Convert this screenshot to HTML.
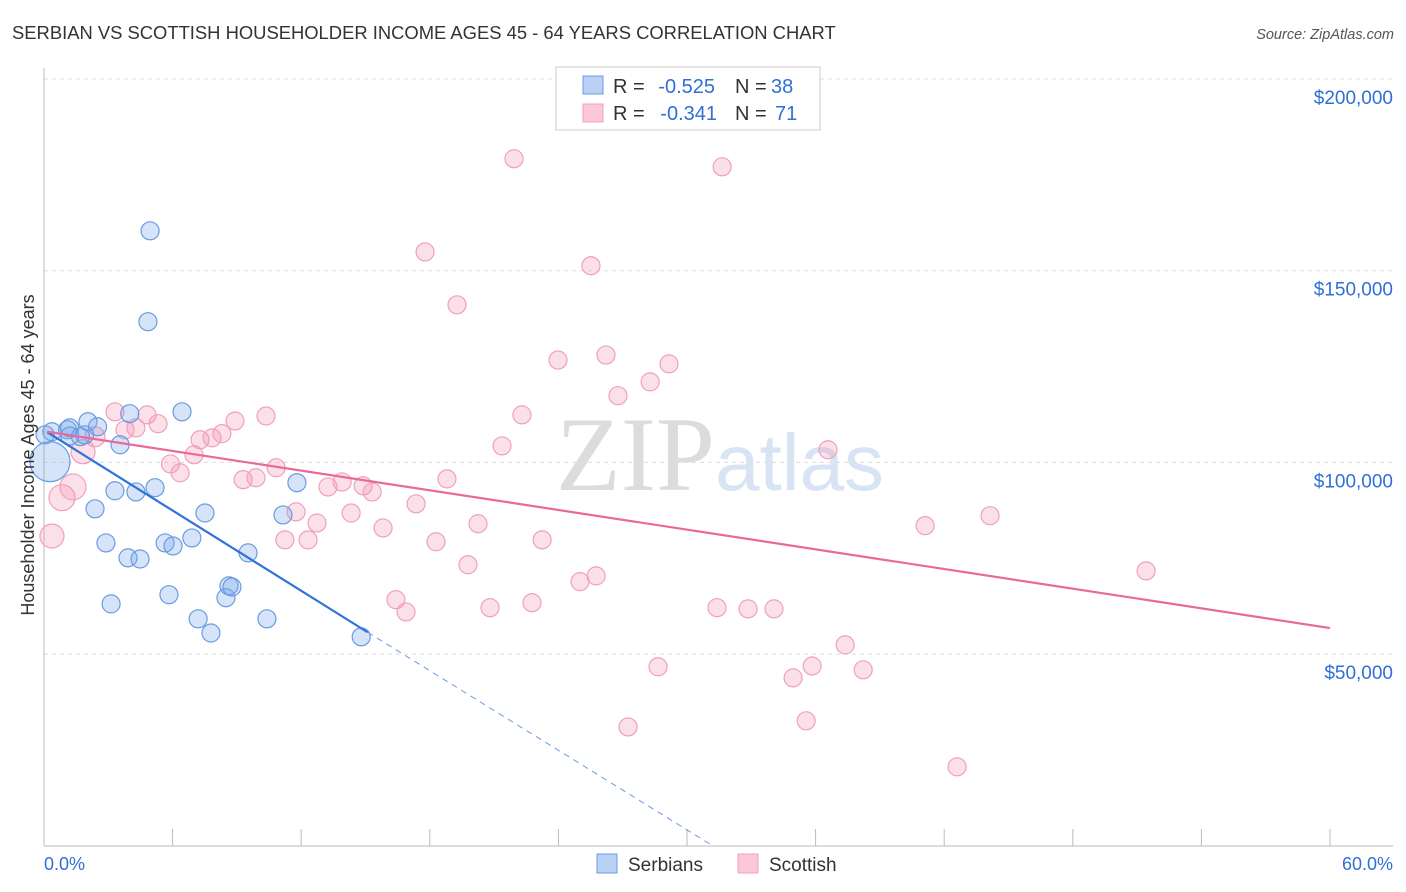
<!DOCTYPE html>
<html><head><meta charset="utf-8">
<style>
body{margin:0;background:#fff;font-family:"Liberation Sans",sans-serif;}
svg{display:block}
</style></head>
<body>
<svg id="c" width="1406" height="892" xmlns="http://www.w3.org/2000/svg">
<text x="12" y="39" font-size="18.4" fill="#333">SERBIAN VS SCOTTISH HOUSEHOLDER INCOME AGES 45 - 64 YEARS CORRELATION CHART</text>
<text x="1394" y="39" font-size="14.5" fill="#555" text-anchor="end" font-style="italic">Source: ZipAtlas.com</text>
<text x="720" y="490" font-size="106" text-anchor="middle" fill="#e6e6e6" font-family="Liberation Serif"><tspan fill="#dcdcdc">ZIP</tspan><tspan fill="#d8e4f4" font-family="Liberation Sans" font-size="80">atlas</tspan></text>
<g id="grid"></g>
<g id="axes"></g>
<g id="pts"></g>
<g id="trends"></g>
<text transform="translate(34,455) rotate(-90)" font-size="18" fill="#333" text-anchor="middle">Householder Income Ages 45 - 64 years</text>
<g>
<rect x="556" y="67" width="264" height="63" fill="#fff" stroke="#ccc"/>
<rect x="583" y="76" width="20" height="18" fill="#b8d1f5" stroke="#6a9be0"/>
<text x="613" y="93" font-size="20" fill="#333">R =</text>
<text x="715" y="93" font-size="20" fill="#2f6fd6" text-anchor="end">-0.525</text>
<text x="735" y="93" font-size="20" fill="#333">N =</text>
<text x="771" y="93" font-size="20" fill="#2f6fd6">38</text>
<rect x="583" y="104" width="20" height="18" fill="#fbc8d8" stroke="#f0a0bb"/>
<text x="613" y="120" font-size="20" fill="#333">R =</text>
<text x="717" y="120" font-size="20" fill="#2f6fd6" text-anchor="end">-0.341</text>
<text x="735" y="120" font-size="20" fill="#333">N =</text>
<text x="775" y="120" font-size="20" fill="#2f6fd6">71</text>
</g>
<g>
<rect x="597" y="854" width="20" height="19" fill="#b8d1f5" stroke="#6a9be0"/>
<text x="628" y="871" font-size="19" fill="#333">Serbians</text>
<rect x="738" y="854" width="20" height="19" fill="#fbc8d8" stroke="#f0a0bb"/>
<text x="769" y="871" font-size="19" fill="#333">Scottish</text>
</g>
<text x="44" y="870" font-size="18" fill="#2f6fd6">0.0%</text>
<text x="1393" y="870" font-size="18" fill="#2f6fd6" text-anchor="end">60.0%</text>
</svg>
<script>
const yTicks=[200000,150000,100000,50000];
const yTickLabels=["$200,000","$150,000","$100,000","$50,000"];
const xTicks=[0,6,12,18,24,30,36,42,48,54,60];
const serbX=[0.28,0.37,1.1,1.2,1.7,2.05,2.5,1.9,4.95,4.85,4.0,6.44,3.55,2.38,3.31,4.29,5.18,2.89,3.92,4.48,5.65,6.02,6.9,7.51,9.52,3.13,5.83,7.19,7.79,8.49,8.63,8.77,10.4,11.15,11.8,14.8,1.2,0.05];
const serbY=[100.2,108,108.5,109,106.7,110.6,109.3,107.2,160.4,136.7,112.7,113.2,104.6,87.9,92.6,92.3,93.4,79,75.1,74.8,79,78.2,80.3,86.8,76.4,63.1,65.5,59.2,55.5,64.7,67.8,67.5,59.2,86.3,94.7,54.5,106.9,107.2];
const serbR=[20,9,9,9,9,9,9,9,9,9,9,9,9,9,9,9,9,9,9,9,9,9,9,9,9,9,9,9,9,9,9,9,9,9,9,9,9,9];
const scotX=[0.37,0.84,1.35,1.82,2.38,3.31,3.78,4.29,4.81,5.32,5.9,6.35,7.0,7.28,7.84,8.3,8.91,9.29,9.89,10.36,10.83,11.24,11.76,12.32,12.74,13.25,13.91,14.33,14.89,15.31,15.82,16.42,16.89,17.36,17.78,18.29,18.8,19.27,19.78,20.25,20.81,21.37,21.93,22.3,22.77,23.24,23.98,25.01,25.52,25.76,26.22,26.78,27.25,28.28,28.65,29.16,31.4,31.64,32.85,34.06,34.95,35.56,35.84,36.58,37.38,38.22,41.11,42.6,44.14,51.42];
const scotY=[80.8,90.8,93.6,102.8,106.7,113.2,108.5,109,112.4,110.1,99.6,97.3,102,105.9,106.4,107.5,110.8,95.5,96,112.1,98.6,79.8,87.1,79.8,84.2,93.6,94.9,86.8,93.9,92.3,82.9,64.2,61,89.2,154.9,79.3,95.7,141.1,73.3,84,62.1,104.3,179.2,112.4,63.4,79.8,126.7,68.9,151.3,70.4,128,117.4,31,121,46.7,125.7,62.1,177.1,61.8,61.8,43.8,32.6,46.9,103.3,52.4,45.9,83.5,20.6,86.1,71.7];
const scotR=[12,13,13,12,10,9,9,9,9,9,9,9,9,9,9,9,9,9,9,9,9,9,9,9,9,9,9,9,9,9,9,9,9,9,9,9,9,9,9,9,9,9,9,9,9,9,9,9,9,9,9,9,9,9,9,9,9,9,9,9,9,9,9,9,9,9,9,9,9,9];
const serbTrend=[[0.14,107.9],[15.1,55.7],[31.2,0]];
const scotTrend=[[0.14,108],[60,56.8]];
const X=v=>44+v/60*1286;
const Y=k=>845.8-k*1000/50000*191.7;
const NS="http://www.w3.org/2000/svg";
function mk(t,a,p){const e=document.createElementNS(NS,t);for(const k in a)e.setAttribute(k,a[k]);p.appendChild(e);return e;}
const grid=document.getElementById('grid'),axes=document.getElementById('axes'),pts=document.getElementById('pts'),tr=document.getElementById('trends');
yTicks.forEach((v,i)=>{
 const g=mk('line',{x1:44,x2:1393,y1:Y(v/1000),y2:Y(v/1000),stroke:'#ddd','stroke-dasharray':'4,4'},grid);
 
 
 const t=mk('text',{x:1393,y:Y(v/1000)+25,'font-size':19,fill:'#2f6fd6','text-anchor':'end'},grid);
 t.textContent=yTickLabels[i];
 
 
});
const ya=mk('line',{x1:44,x2:44,y1:68,y2:846,stroke:'#bbb'},axes);


const xa=mk('line',{x1:44,x2:1393,y1:846,y2:846,stroke:'#bbb'},axes);


xTicks.forEach(v=>{
 const l=mk('line',{x1:X(v),x2:X(v),y1:829,y2:846,stroke:'#bbb'},axes);
 
 
});
scotX.forEach((v,i)=>{
 const c=mk('circle',{cx:X(v),cy:Y(scotY[i]),r:scotR[i],fill:'rgba(244,143,177,0.28)',stroke:'#f0a0bb','stroke-width':1.2},pts);
 
 
});
serbX.forEach((v,i)=>{
 const c=mk('circle',{cx:X(v),cy:Y(serbY[i]),r:serbR[i],fill:'rgba(120,165,235,0.3)',stroke:'#6a9be0','stroke-width':1.2},pts);
 
 
});
const s1=mk('line',{x1:X(serbTrend[0][0]),y1:Y(serbTrend[0][1]),x2:X(serbTrend[1][0]),y2:Y(serbTrend[1][1]),stroke:'#2f73d8','stroke-width':2.2},tr);


const s2=mk('line',{x1:X(serbTrend[1][0]),y1:Y(serbTrend[1][1]),x2:X(serbTrend[2][0]),y2:Y(serbTrend[2][1]),stroke:'#6a9be0','stroke-width':1,'stroke-dasharray':'6,5'},tr);


const p1=mk('line',{x1:X(scotTrend[0][0]),y1:Y(scotTrend[0][1]),x2:X(scotTrend[1][0]),y2:Y(scotTrend[1][1]),stroke:'#e8699a','stroke-width':2.2},tr);


</script>
</body></html>
